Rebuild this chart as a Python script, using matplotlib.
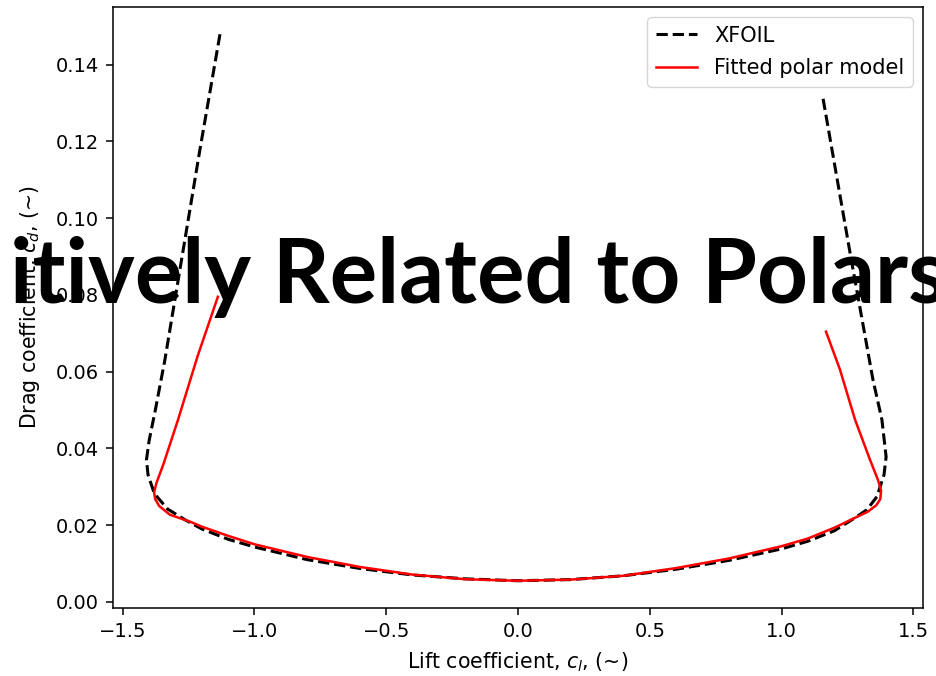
import numpy as np
import matplotlib.pyplot as plt

# XFOIL polar (lift coefficient, drag coefficient)
xfoil_cl = [-1.131, -1.207, -1.283, -1.340, -1.376, -1.400, -1.410, -1.404, -1.380,
            -1.330, -1.264, -1.2, -1.1, -1.0, -0.8, -0.6, -0.4, -0.2, 0.0,
            0.2, 0.4, 0.6, 0.8, 1.0, 1.1, 1.2, 1.279, 1.324, 1.362, 1.389,
            1.397, 1.381, 1.347, 1.260, 1.157]
xfoil_cd = [0.1479, 0.1179, 0.0866, 0.0631, 0.0501, 0.0420, 0.0370, 0.0331, 0.0282,
            0.0242, 0.0214, 0.0190, 0.0163, 0.0143, 0.0110, 0.0087, 0.0070, 0.0060, 0.0055,
            0.0058, 0.0068, 0.0085, 0.0108, 0.0138, 0.0158, 0.0185, 0.0219, 0.0240, 0.0274, 0.0331,
            0.0378, 0.0475, 0.0579, 0.0910, 0.1314]

# fitted polar model
fit_cl = [-1.139, -1.216, -1.290, -1.345, -1.372, -1.381, -1.377, -1.362, -1.321, -1.245,
          -1.2, -1.1, -1.0, -0.8, -0.6, -0.4, -0.2, 0.0, 0.2, 0.4, 0.6, 0.8,
          1.0, 1.1, 1.2, 1.279, 1.328, 1.360, 1.375, 1.378, 1.366, 1.336, 1.279, 1.222, 1.169]
fit_cd = [0.0795, 0.0640, 0.0475, 0.0360, 0.0310, 0.0285, 0.0268, 0.0250, 0.0227, 0.0209,
          0.0196, 0.0172, 0.0150, 0.0117, 0.0091, 0.0071, 0.0059, 0.0055, 0.0058, 0.0068, 0.0088, 0.0113,
          0.0145, 0.0165, 0.0193, 0.0219, 0.0235, 0.0252, 0.0268, 0.0290, 0.0318, 0.0370, 0.0475, 0.0605, 0.0704]

overlay = 'itively Related to Polars'

fig = plt.figure(figsize=(9.36, 6.76), dpi=100)
ax = fig.add_axes([113/936, 1-608/676, 810/936, 601/676])

ax.plot(xfoil_cl, xfoil_cd, 'k--', lw=2.2, label='XFOIL')
ax.plot(fit_cl, fit_cd, 'r-', lw=1.8, label='Fitted polar model')

ax.set_xlim(-1.537, 1.537)
ax.set_ylim(-0.0016, 0.155)
ax.set_xticks([-1.5, -1.0, -0.5, 0.0, 0.5, 1.0, 1.5])
ax.set_yticks(np.arange(0, 0.141, 0.02))
ax.set_xlabel(r'Lift coefficient, $c_l$, (~)', fontsize=14.8, labelpad=7)
ax.set_ylabel(r'Drag coefficient, $c_d$, (~)', fontsize=14.8, labelpad=10)
ax.tick_params(labelsize=14, length=5, width=1.1, pad=5)
for s in ax.spines.values():
    s.set_linewidth(1.1)
ax.legend(loc='upper right', fontsize=15, labelspacing=0.6)

# big slide title lying over the chart, clipped at the edges
txt = fig.text(10/936, 1-303/676, overlay, fontsize=70, fontweight='bold',
               family=['Lato', 'DejaVu Sans'], va='baseline', ha='left', zorder=10)
fig.canvas.draw()
w = txt.get_window_extent().width
txt.set_fontsize(70*938/w)

fig.savefig('out.png', dpi=100)
